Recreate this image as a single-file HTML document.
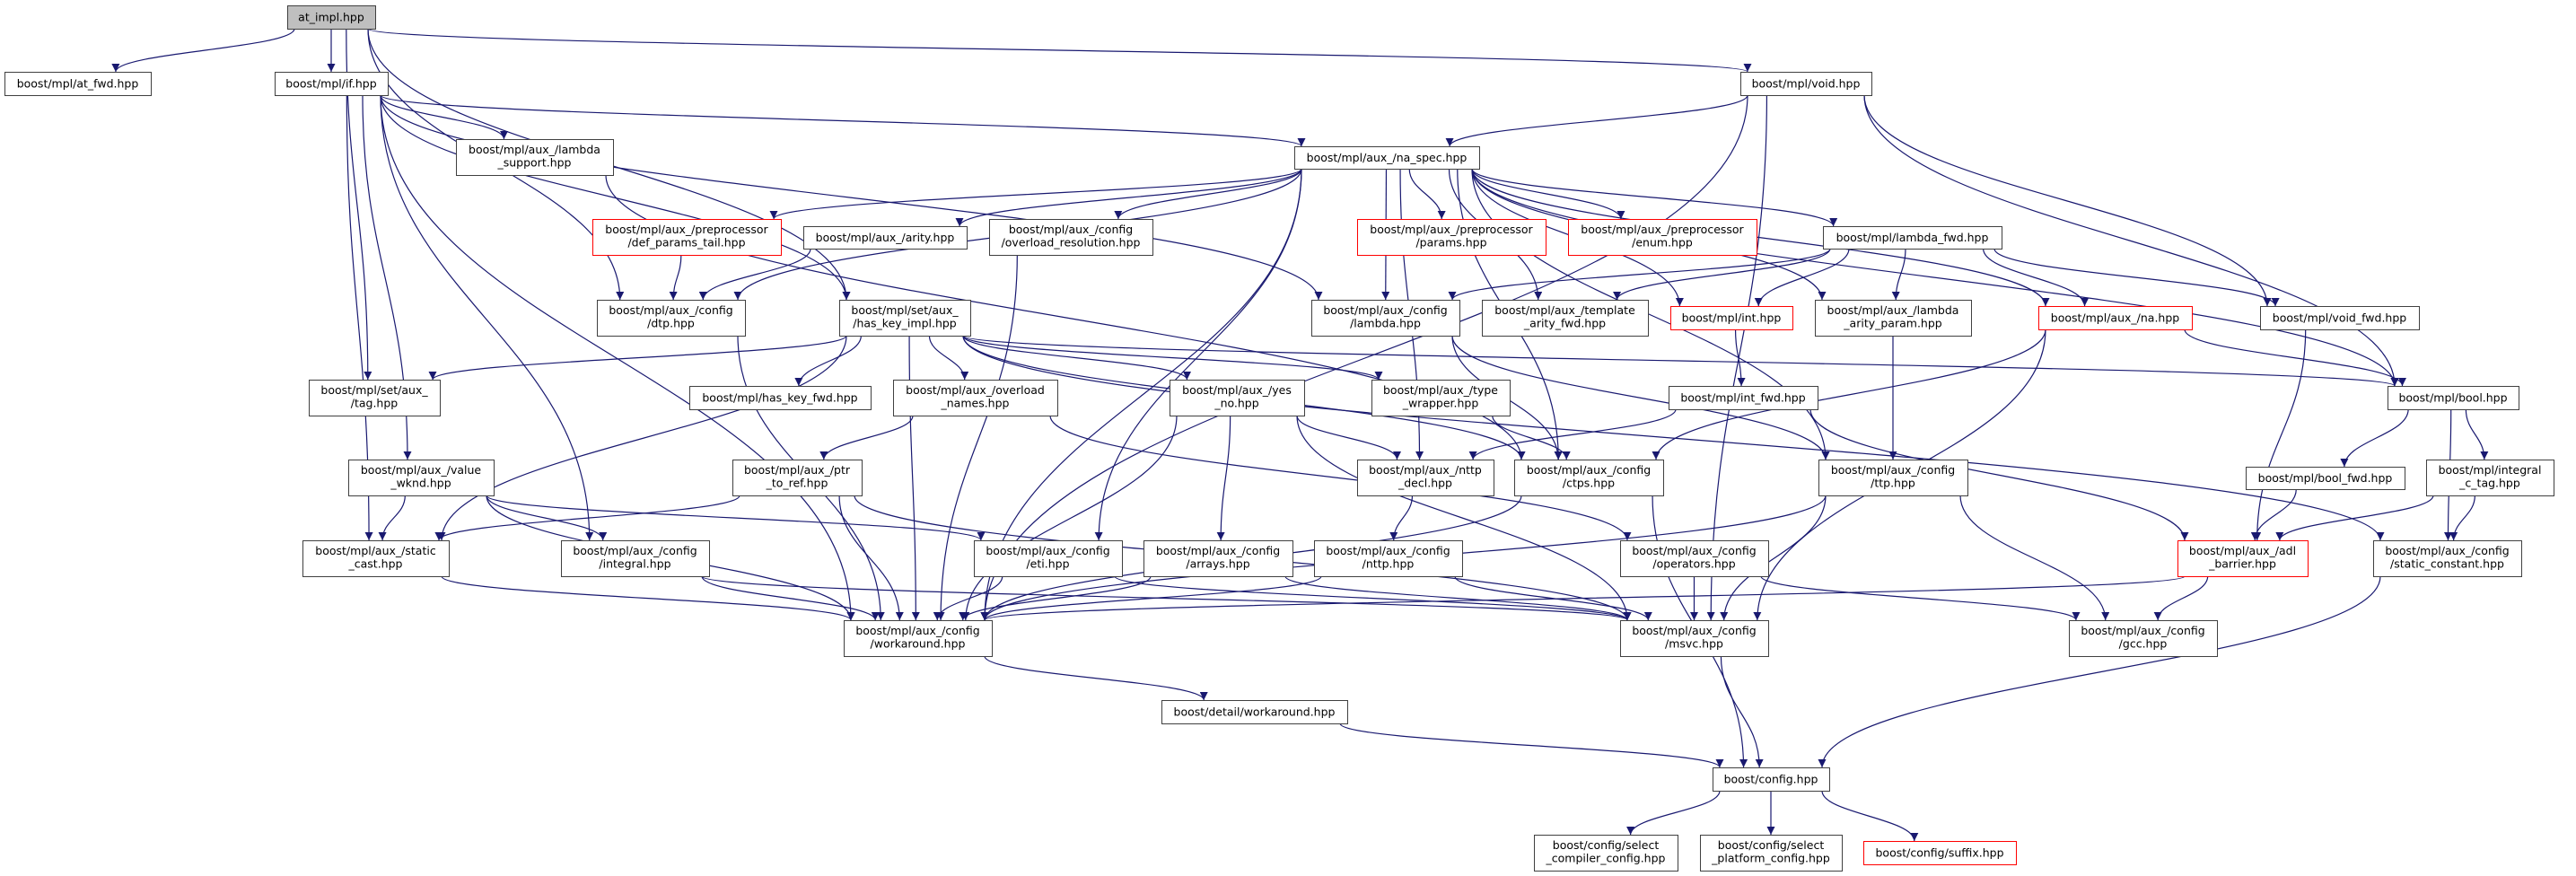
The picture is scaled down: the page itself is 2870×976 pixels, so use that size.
<!DOCTYPE html>
<html><head><meta charset="utf-8">
<style>
html,body{margin:0;padding:0;background:#fff;}
svg{display:block;}
text{font-family:"DejaVu Sans","Liberation Sans",sans-serif;font-size:12.5px;fill:#000;}
</style></head>
<body>
<svg id="g" width="2870" height="976" viewBox="0 0 2870 976" xmlns="http://www.w3.org/2000/svg">
<defs>
<marker id="ah" viewBox="0 0 10 10" refX="10" refY="5" markerWidth="11" markerHeight="9" markerUnits="userSpaceOnUse" orient="auto">
<path d="M0,0 L10,5 L0,10 z" fill="#191970"/>
</marker>
</defs>
<g id="edges"></g>
<g id="nodes"></g>
</svg>
<script>
var N={
at_impl:[320,6,418,32,["at_impl.hpp"],"root"],
at_fwd:[5,80,168,106,["boost/mpl/at_fwd.hpp"]],
iff:[306,80,432,106,["boost/mpl/if.hpp"]],
lsup:[508,155,683,195,["boost/mpl/aux_/lambda","_support.hpp"]],
vd:[1939,80,2085,106,["boost/mpl/void.hpp"]],
nas:[1442,163,1648,188,["boost/mpl/aux_/na_spec.hpp"]],
dpt:[660,244,870,284,["boost/mpl/aux_/preprocessor","/def_params_tail.hpp"],"red"],
arity:[895,252,1077,277,["boost/mpl/aux_/arity.hpp"]],
ovres:[1102,244,1284,284,["boost/mpl/aux_/config","/overload_resolution.hpp"]],
params:[1512,244,1722,284,["boost/mpl/aux_/preprocessor","/params.hpp"],"red"],
enm:[1747,244,1957,284,["boost/mpl/aux_/preprocessor","/enum.hpp"],"red"],
lfwd:[2031,252,2230,277,["boost/mpl/lambda_fwd.hpp"]],
dtp:[665,334,830,374,["boost/mpl/aux_/config","/dtp.hpp"]],
hki:[935,334,1081,374,["boost/mpl/set/aux_","/has_key_impl.hpp"]],
clam:[1461,334,1626,374,["boost/mpl/aux_/config","/lambda.hpp"]],
taf:[1651,334,1836,374,["boost/mpl/aux_/template","_arity_fwd.hpp"]],
int:[1861,341,1997,367,["boost/mpl/int.hpp"],"red"],
lap:[2022,334,2196,374,["boost/mpl/aux_/lambda","_arity_param.hpp"]],
na:[2271,341,2442,367,["boost/mpl/aux_/na.hpp"],"red"],
vfwd:[2518,341,2695,367,["boost/mpl/void_fwd.hpp"]],
tag:[344,423,490,463,["boost/mpl/set/aux_","/tag.hpp"]],
hkf:[768,430,970,456,["boost/mpl/has_key_fwd.hpp"]],
oln:[995,423,1178,463,["boost/mpl/aux_/overload","_names.hpp"]],
yn:[1303,423,1453,463,["boost/mpl/aux_/yes","_no.hpp"]],
tw:[1528,423,1682,463,["boost/mpl/aux_/type","_wrapper.hpp"]],
ifwd:[1859,430,2025,456,["boost/mpl/int_fwd.hpp"]],
bool:[2660,430,2806,456,["boost/mpl/bool.hpp"]],
vw:[388,512,550,552,["boost/mpl/aux_/value","_wknd.hpp"]],
ptr:[816,512,960,552,["boost/mpl/aux_/ptr","_to_ref.hpp"]],
nttpd:[1512,512,1664,552,["boost/mpl/aux_/nttp","_decl.hpp"]],
ctps:[1687,512,1853,552,["boost/mpl/aux_/config","/ctps.hpp"]],
ttp:[2026,512,2192,552,["boost/mpl/aux_/config","/ttp.hpp"]],
bfwd:[2502,520,2679,545,["boost/mpl/bool_fwd.hpp"]],
ict:[2703,512,2845,552,["boost/mpl/integral","_c_tag.hpp"]],
sc:[337,602,500,642,["boost/mpl/aux_/static","_cast.hpp"]],
integ:[625,602,790,642,["boost/mpl/aux_/config","/integral.hpp"]],
eti:[1085,602,1250,642,["boost/mpl/aux_/config","/eti.hpp"]],
arr:[1274,602,1440,642,["boost/mpl/aux_/config","/arrays.hpp"]],
nttp:[1464,602,1629,642,["boost/mpl/aux_/config","/nttp.hpp"]],
ops:[1805,602,1970,642,["boost/mpl/aux_/config","/operators.hpp"]],
adl:[2426,602,2571,642,["boost/mpl/aux_/adl","_barrier.hpp"],"red"],
stc:[2644,602,2809,642,["boost/mpl/aux_/config","/static_constant.hpp"]],
wa:[940,691,1105,731,["boost/mpl/aux_/config","/workaround.hpp"]],
msvc:[1805,691,1970,731,["boost/mpl/aux_/config","/msvc.hpp"]],
gcc:[2305,691,2470,731,["boost/mpl/aux_/config","/gcc.hpp"]],
dw:[1294,780,1501,806,["boost/detail/workaround.hpp"]],
cfg:[1908,855,2038,881,["boost/config.hpp"]],
scc:[1709,930,1869,970,["boost/config/select","_compiler_config.hpp"]],
spc:[1894,930,2052,970,["boost/config/select","_platform_config.hpp"]],
suf:[2076,937,2246,963,["boost/config/suffix.hpp"],"red"]
};
var E={
at_impl:["at_fwd","iff","tag","vd","hki","dtp"],
iff:["nas","lsup","wa","sc","vw","integ","hki","clam"],
vd:["nas","msvc","bool","vfwd","wa"],
lsup:["ctps"],
nas:["dpt","arity","ovres","eti","dtp","clam","taf","params","enm","lfwd","int","na","lap","ttp","bool","nttpd","ctps","wa"],
dpt:["dtp"],arity:["dtp"],ovres:["wa"],dtp:["wa"],
hki:["tag","hkf","oln","yn","tw","bool","sc","wa","stc","ctps"],
lfwd:["clam","taf","int","lap","na","vfwd"],
clam:["ttp","ctps"],int:["ifwd"],ifwd:["nttpd","adl"],lap:["ttp"],
na:["bool","ctps","msvc"],vfwd:["adl"],bool:["bfwd","ict","stc"],
oln:["ptr","ops"],yn:["nttpd","arr","wa","msvc"],tw:["ctps"],
vw:["sc","integ","wa","eti"],ptr:["sc","wa","msvc"],sc:["wa"],integ:["wa","msvc"],
eti:["wa","msvc"],arr:["wa","msvc"],nttpd:["nttp"],nttp:["wa","msvc"],
ctps:["wa","cfg"],ttp:["wa","msvc","gcc"],ops:["msvc","gcc"],
bfwd:["adl"],ict:["adl","stc"],adl:["wa","gcc"],stc:["cfg"],
msvc:["cfg"],wa:["dw"],dw:["cfg"],cfg:["scc","spc","suf"]
};
var NS="http://www.w3.org/2000/svg";
var eg=document.getElementById("edges"),ng=document.getElementById("nodes");
function cl(v,a,b){return Math.max(a,Math.min(b,v));}
for(var s in E){E[s].forEach(function(t){
 var a=N[s],b=N[t];
 var acx=(a[0]+a[2])/2,bcx=(b[0]+b[2])/2;
 var sx=cl(acx+(bcx-acx)*0.35,a[0]+8,a[2]-8),sy=a[3];
 var tx=cl(bcx+(acx-bcx)*0.15,b[0]+8,b[2]-8),ty=b[1];
 var dy=ty-sy;
 var p=document.createElementNS(NS,"path");
 p.setAttribute("d","M"+sx+","+sy+" C"+sx+","+(sy+dy*0.45)+" "+tx+","+(ty-dy*0.45)+" "+tx+","+ty);
 p.setAttribute("fill","none");p.setAttribute("stroke","#191970");p.setAttribute("stroke-width","1.2");
 p.setAttribute("marker-end","url(#ah)");
 eg.appendChild(p);
});}
for(var k in N){var n=N[k];
 var r=document.createElementNS(NS,"rect");
 r.setAttribute("x",n[0]+0.5);r.setAttribute("y",n[1]+0.5);
 r.setAttribute("width",n[2]-n[0]);r.setAttribute("height",n[3]-n[1]);
 r.setAttribute("fill",n[5]=="root"?"#bfbfbf":"#ffffff");
 r.setAttribute("stroke",n[5]=="red"?"#ff0000":"#404040");r.setAttribute("stroke-width","1");
 ng.appendChild(r);
 var cx=(n[0]+n[2])/2,L=n[4];
 for(var i=0;i<L.length;i++){
  var t=document.createElementNS(NS,"text");
  t.setAttribute("x",cx);t.setAttribute("text-anchor","middle");
  var y=L.length==1?(n[1]+n[3])/2+4.5:n[1]+16+i*14.5;
  t.setAttribute("y",y);t.textContent=L[i];ng.appendChild(t);
 }
}
</script>
</body></html>
